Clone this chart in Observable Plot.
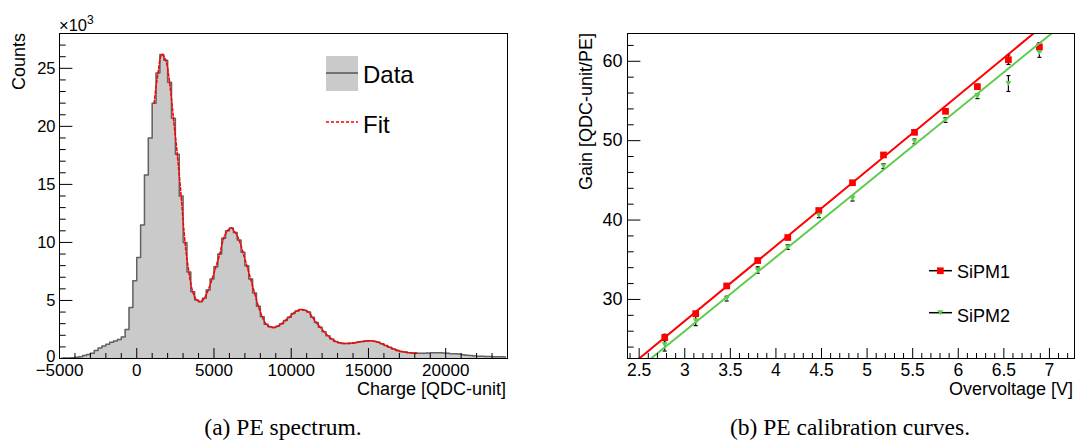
<!DOCTYPE html>
<html><head><meta charset="utf-8">
<script src="https://cdn.jsdelivr.net/npm/d3@7"></script>
<script src="https://cdn.jsdelivr.net/npm/@observablehq/plot@0.6"></script>
<style>
body{margin:0;background:#fff;}
#wrap{position:relative;width:1075px;height:442px;overflow:hidden;background:#fff;}
.panel{position:absolute;top:0;}
#overlay{position:absolute;left:0;top:0;font-family:"Liberation Sans",Arial,sans-serif;}
</style></head>
<body>
<div id="wrap">
  <div class="panel" id="p1" style="left:0px"></div>
  <div class="panel" id="p2" style="left:560px"></div>
  <svg id="overlay" width="1075" height="442"></svg>
</div>
<script>
// ---------- (a) PE spectrum: histogram bin centres (QDC-unit) and counts (x10^3) ----------
const charge = [
  -4875,-4625,-4375,-4125,-3875,-3625,-3375,-3125,-2875,-2625,-2375,-2125,-1875,-1625,-1375,-1125,-875,-625,-375,-125,
  125,375,625,875,1125,1375,1625,1875,2125,2375,2625,2875,3125,3375,3625,3875,4125,4375,4625,4875,
  5125,5375,5625,5875,6125,6375,6625,6875,7125,7375,7625,7875,8125,8375,8625,8875,9125,9375,9625,9875,
  10125,10375,10625,10875,11125,11375,11625,11875,12125,12375,12625,12875,13125,13375,13625,13875,14125,14375,14625,14875,
  15125,15375,15625,15875,16125,16375,16625,16875,17125,17375,17625,17875,18125,18375,18625,18875,19125,19375,19625,19875,
  20125,20375,20625,20875,21125,21375,21625,21875,22125,22375,22625,22875,23125,23375,23625,23875
];
const countsK = [
  0.03,0.04,0.05,0.07,0.1,0.15,0.25,0.34,0.45,0.68,0.9,1.08,1.22,1.4,1.5,1.63,1.85,2.5,4.4,6.7,
  8.7,11.5,15.8,19.0,22.0,24.6,26.2,25.7,23.8,20.7,17.6,14.0,10.0,7.45,5.75,5.05,4.9,5.2,5.9,6.85,
  7.9,9.0,10.35,11.0,11.25,10.85,10.2,9.15,8.0,6.85,5.65,4.5,3.6,2.95,2.73,2.67,2.78,3.0,3.28,3.55,
  3.87,4.1,4.22,4.15,4.0,3.55,3.1,2.7,2.3,1.95,1.68,1.47,1.36,1.3,1.3,1.31,1.36,1.42,1.47,1.51,
  1.53,1.48,1.4,1.27,1.12,0.96,0.82,0.7,0.61,0.55,0.5,0.47,0.46,0.46,0.46,0.47,0.49,0.5,0.5,0.48,
  0.45,0.42,0.4,0.38,0.33,0.28,0.25,0.22,0.2,0.19,0.18,0.17,0.16,0.15,0.15,0.14
];
const fitRange = [1125, 18125];
const specXTicks = [-5000, 0, 5000, 10000, 15000, 20000];
const specYTicks = [0, 5000, 10000, 15000, 20000, 25000];

// ---------- (b) PE calibration curves ----------
const overvoltage = [2.78, 3.12, 3.46, 3.80, 4.13, 4.47, 4.84, 5.18, 5.52, 5.86, 6.21, 6.55, 6.89];
const gain1 = [25.2, 28.2, 31.7, 34.9, 37.8, 41.2, 44.7, 48.2, 51.05, 53.7, 56.8, 60.2, 61.8];
const err1  = [0.4, 0.3, 0.2, 0.2, 0.2, 0.2, 0.2, 0.2, 0.2, 0.2, 0.3, 0.6, 0.55];
const gain2 = [24.3, 27.3, 30.1, 33.7, 36.6, 40.6, 42.7, 46.8, 49.9, 52.6, 55.6, 57.2, 61.1];
const err2  = [0.8, 0.6, 0.3, 0.4, 0.3, 0.3, 0.3, 0.3, 0.3, 0.3, 0.3, 1.0, 0.6];
// fitted straight lines, end points
const fit1X = [2.4, 7.3], fit1Y = [21.61, 68.0];
const fit2X = [2.4, 7.3], fit2Y = [20.42, 66.08];
const calXTicks = [2.5, 3, 3.5, 4, 4.5, 5, 5.5, 6, 6.5, 7];
const calYTicks = [30, 40, 50, 60];

const RED = "#ff0000", GREEN = "#5fcb4f";
const FONT = "Liberation Sans, Arial, sans-serif";

// ---------- panel (a) ----------
const hist = charge.map((c, i) => ({c, count: countsK[i]*1000}));
const fitData = hist.filter(d => d.c >= fitRange[0] && d.c <= fitRange[1]);
const specMinorX = d3.range(-5000, 24001, 1000).filter(v => !specXTicks.includes(v));
const specMinorY = d3.range(0, 28001, 1000).filter(v => !specYTicks.includes(v));

const W1 = 520, H1 = 400, mL1 = 59, mR1 = 13, mT = 33, mB = 42;
const iw1 = W1 - mL1 - mR1, ih = H1 - mT - mB;

const p1 = Plot.plot({
  width: W1, height: H1, marginLeft: mL1, marginRight: mR1, marginTop: mT, marginBottom: mB,
  x: {domain: [-5000, 24000]}, y: {domain: [0, 28000]},
  style: {fontFamily: FONT, fontSize: "17px", color: "black", background: "white"},
  marks: [
    Plot.areaY(hist, {x: "c", y: "count", curve: "step", fill: "#cacaca"}),
    Plot.line(hist, {x: "c", y: "count", curve: "step", stroke: "#626262", strokeWidth: 1.5}),
    Plot.line(fitData, {x: "c", y: "count", curve: "catmull-rom", stroke: RED, strokeWidth: 1.6, strokeDasharray: "3,2"}),
    Plot.ruleX(specXTicks, {stroke: "black", insetTop: ih - 10}),
    Plot.ruleX(specMinorX, {stroke: "black", insetTop: ih - 5}),
    Plot.ruleY(specYTicks, {stroke: "black", insetRight: iw1 - 13.4}),
    Plot.ruleY(specMinorY, {stroke: "black", insetRight: iw1 - 6.7}),
    Plot.axisX(specXTicks, {tickSize: 0, tickPadding: 5, tickFormat: d3.format("d"), label: null, fontSize: 17}),
    Plot.axisY(specYTicks.filter(d => d > 0), {tickSize: 0, tickPadding: 4, tickFormat: d => String(d/1000), label: null, fontSize: 16.5}),
    Plot.axisY(specYTicks.filter(d => d === 0), {tickSize: 0, tickPadding: 4, tickFormat: d => String(d/1000), label: null, fontSize: 16.5, dy: -2}),
    Plot.frame({stroke: "black"})
  ]
});
document.getElementById("p1").appendChild(p1);

// ---------- panel (b) ----------
const rows1 = overvoltage.map((v, i) => ({v, g: gain1[i], e: err1[i]}));
const rows2 = overvoltage.map((v, i) => ({v, g: gain2[i], e: err2[i]}));
const fit1 = fit1X.map((x, i) => ({x, y: fit1Y[i]}));
const fit2 = fit2X.map((x, i) => ({x, y: fit2Y[i]}));
const calMinorX = d3.range(24, 73, 1).map(v => v/10).filter(v => !calXTicks.includes(v));
const calMinorY = d3.range(24, 64, 2).filter(v => !calYTicks.includes(v));

const triDown = {draw(ctx) { ctx.moveTo(-3, -2.5); ctx.lineTo(3, -2.5); ctx.lineTo(0, 2.5); ctx.closePath(); }};
const capSym = {draw(ctx) { ctx.moveTo(-2, 0); ctx.lineTo(2, 0); }};

const W2 = 515, mL2 = 67, mR2 = 1;
const iw2 = W2 - mL2 - mR2;

const errMarks = rows => [
  Plot.ruleX(rows, {x: "v", y1: d => d.g - d.e, y2: d => d.g + d.e, stroke: "black", strokeWidth: 1.2}),
  Plot.dot(rows, {x: "v", y: d => d.g - d.e, symbol: capSym, stroke: "black", strokeWidth: 1.2, fill: "none"}),
  Plot.dot(rows, {x: "v", y: d => d.g + d.e, symbol: capSym, stroke: "black", strokeWidth: 1.2, fill: "none"})
];

const p2 = Plot.plot({
  width: W2, height: H1, marginLeft: mL2, marginRight: mR2, marginTop: mT, marginBottom: mB,
  x: {domain: [2.372, 7.275]}, y: {domain: [22.56, 63.5]},
  style: {fontFamily: FONT, fontSize: "17.5px", color: "black", background: "white"},
  marks: [
    ...errMarks(rows1),
    ...errMarks(rows2),
    Plot.dot(rows1, {x: "v", y: "g", symbol: "square", r: 3.8, fill: RED, stroke: "none"}),
    Plot.dot(rows2, {x: "v", y: "g", symbol: triDown, fill: GREEN, stroke: "none"}),
    Plot.line(fit1, {x: "x", y: "y", stroke: RED, strokeWidth: 2, clip: true}),
    Plot.line(fit2, {x: "x", y: "y", stroke: GREEN, strokeWidth: 2, clip: true}),
    Plot.ruleX(calXTicks, {stroke: "black", insetTop: ih - 10}),
    Plot.ruleX(calMinorX, {stroke: "black", insetTop: ih - 5}),
    Plot.ruleY(calYTicks, {stroke: "black", insetRight: iw2 - 13.4}),
    Plot.ruleY(calMinorY, {stroke: "black", insetRight: iw2 - 6.7}),
    Plot.axisX(calXTicks, {tickSize: 0, tickPadding: 5, tickFormat: d => String(d), label: null, fontSize: 17.5}),
    Plot.axisY(calYTicks, {tickSize: 0, tickPadding: 5, tickFormat: d => String(d), label: null, fontSize: 18}),
    Plot.frame({stroke: "black"})
  ]
});
document.getElementById("p2").appendChild(p2);

// ---------- titles, legends, captions ----------
document.getElementById("overlay").innerHTML = `
  <text x="59" y="31" font-size="16.5">×10<tspan dy="-7" font-size="12">3</tspan></text>
  <text transform="translate(25,33) rotate(-90)" text-anchor="end" font-size="18">Counts</text>
  <text x="506" y="395" text-anchor="end" font-size="18">Charge [QDC-unit]</text>
  <rect x="326" y="56" width="32" height="35" fill="#cacaca"/>
  <line x1="326" x2="358" y1="73" y2="73" stroke="#555" stroke-width="1.5"/>
  <text x="363" y="83" font-size="24">Data</text>
  <line x1="326" x2="358" y1="122" y2="122" stroke="${RED}" stroke-width="1.6" stroke-dasharray="3,2"/>
  <text x="363" y="133" font-size="24">Fit</text>

  <text transform="translate(592,33) rotate(-90)" text-anchor="end" font-size="18">Gain [QDC-unit/PE]</text>
  <text x="1073" y="395" text-anchor="end" font-size="18">Overvoltage [V]</text>
  <line x1="929" x2="952" y1="270.7" y2="270.7" stroke="black" stroke-width="1.5"/>
  <rect x="937" y="267.4" width="6.7" height="6.7" fill="${RED}"/>
  <text x="957" y="278" font-size="18">SiPM1</text>
  <line x1="929" x2="952" y1="312.7" y2="312.7" stroke="black" stroke-width="1.5"/>
  <path d="M937.3,310.2 L943.3,310.2 L940.3,315.2 Z" fill="${GREEN}"/>
  <text x="957" y="322" font-size="18">SiPM2</text>

  <text x="283" y="435" text-anchor="middle" font-size="23.5" font-family="Liberation Serif, Times New Roman, serif">(a) PE spectrum.</text>
  <text x="850" y="435" text-anchor="middle" font-size="23.5" font-family="Liberation Serif, Times New Roman, serif">(b) PE calibration curves.</text>
`;
</script>
</body></html>
